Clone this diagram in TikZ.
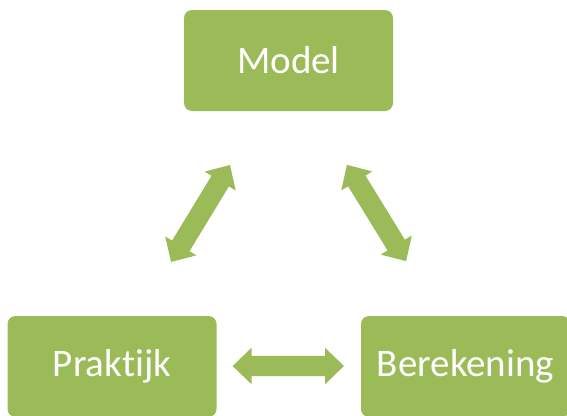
\documentclass[tikz,border=0pt]{standalone}
\usepackage{fontspec}
\setmainfont[Ligatures=NoCommon]{Carlito}
\usetikzlibrary{shapes.arrows}
\definecolor{olive}{HTML}{9BBB59}
\begin{document}
\begin{tikzpicture}[x=1pt,y=-1pt,
  box/.style={fill=olive,draw=none,rounded corners=8pt,minimum width=209pt,minimum height=101pt,inner sep=0pt,text=white,font=\fontsize{39}{44}\selectfont},
  fatarrow/.style={double arrow,fill=olive,draw=none,inner sep=10pt,minimum width=36pt,double arrow head extend=8pt,double arrow tip angle=88}]
\useasboundingbox (0,0) rectangle (567,415);
\clip (0,0) rectangle (567,415);
\node[box] (model) at (288.5,60.5) {Model};
\node[box] (praktijk) at (112,366.5) {Praktijk};
\node[box] (berekening) at (465.5,366.5) {Berekening};
\node[fatarrow,minimum height=113.5pt,rotate=58.7] (aleft) at (200.5,213.5) {};
\node[fatarrow,minimum height=113pt,rotate=-58.4] (aright) at (376.5,213) {};
\node[fatarrow,minimum height=111.3pt] (abottom) at (288.3,366) {};
\end{tikzpicture}
\end{document}
